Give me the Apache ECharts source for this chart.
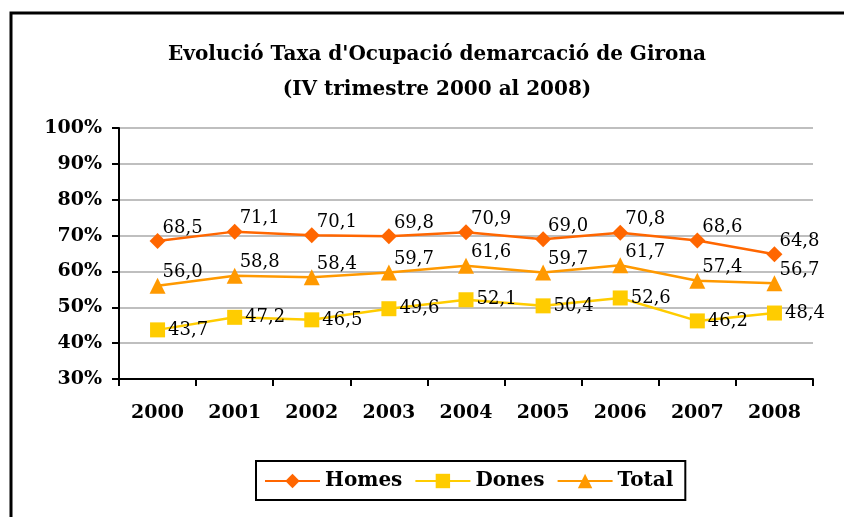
<!DOCTYPE html>
<html>
<head>
<meta charset="utf-8">
<script src="https://cdn.jsdelivr.net/npm/echarts@6/dist/echarts.min.js"></script>
<style>
  html, body { margin: 0; padding: 0; background: #fff; }
  #chart { width: 844px; height: 517px; }
</style>
</head>
<body>
<div id="chart"></div>
<script>
const years = ["2000", "2001", "2002", "2003", "2004", "2005", "2006", "2007", "2008"];
const homes = [68.5, 71.1, 70.1, 69.8, 70.9, 69.0, 70.8, 68.6, 64.8];
const dones = [43.7, 47.2, 46.5, 49.6, 52.1, 50.4, 52.6, 46.2, 48.4];
const total = [56.0, 58.8, 58.4, 59.7, 61.6, 59.7, 61.7, 57.4, 56.7];

const serif = "'DejaVu Serif', 'Liberation Serif', serif";
const fmt = p => p.value.toFixed(1).replace(".", ",");

// etiquetes de dades a dalt a la dreta
const labelUp = {
  show: true,
  position: "right",
  distance: 0,
  offset: [-3, -13],
  formatter: fmt,
  fontFamily: serif,
  fontSize: 18,
  color: "#000"
};

const myChart = echarts.init(document.getElementById("chart"));
const option = {
  animation: false,
  title: {
    text: "Evolució Taxa d'Ocupació demarcació de Girona\n(IV trimestre 2000 al 2008)",
    left: 432,
    top: 32,
    textAlign: "center",
    textStyle: {
      fontFamily: serif,
      fontWeight: "bold",
      fontSize: 20,
      lineHeight: 35,
      color: "#000"
    }
  },
  graphic: [
    {
      type: "rect",
      shape: { x: 11, y: 13, width: 860, height: 540 },
      style: { fill: "none", stroke: "#000", lineWidth: 3 }
    }
  ],
  legend: {
    bottom: 17,
    left: 256,
    padding: [10, 12, 9, 8],
    itemGap: 12,
    itemWidth: 55,
    itemHeight: 18,
    borderColor: "#000",
    borderWidth: 2,
    borderRadius: 0,
    textStyle: {
      fontFamily: serif,
      fontWeight: "bold",
      fontSize: 20,
      color: "#000"
    },
    data: ["Homes", "Dones", "Total"]
  },
  grid: {
    left: 119,
    right: 31,
    top: 128,
    bottom: 138
  },
  xAxis: {
    type: "category",
    data: years,
    boundaryGap: true,
    axisLine: { lineStyle: { color: "#000", width: 2 } },
    axisTick: { show: true, length: 7, lineStyle: { color: "#000", width: 2 } },
    axisLabel: {
      margin: 25,
      fontFamily: serif,
      fontWeight: "bold",
      fontSize: 19,
      color: "#000"
    }
  },
  yAxis: {
    type: "value",
    min: 30,
    max: 100,
    interval: 10,
    axisLine: { show: true, lineStyle: { color: "#000", width: 2 } },
    axisTick: { show: true, length: 7, lineStyle: { color: "#000", width: 2 } },
    splitLine: { lineStyle: { color: "#BFBFBF", width: 2 } },
    axisLabel: {
      margin: 17,
      formatter: "{value}%",
      fontFamily: serif,
      fontWeight: "bold",
      fontSize: 19,
      color: "#000"
    }
  },
  series: [
    {
      name: "Homes",
      type: "line",
      data: homes,
      symbol: "diamond",
      symbolSize: 16,
      color: "#FF6600",
      lineStyle: { width: 2.5 },
      label: labelUp
    },
    {
      name: "Dones",
      type: "line",
      data: dones,
      symbol: "rect",
      symbolSize: 15,
      color: "#FFCC00",
      lineStyle: { width: 2.5 },
      label: Object.assign({}, labelUp, { distance: 3, offset: [0, 0] })
    },
    {
      name: "Total",
      type: "line",
      data: total,
      symbol: "triangle",
      symbolSize: 16,
      color: "#FF9900",
      lineStyle: { width: 2.5 },
      label: labelUp
    }
  ]
};
myChart.setOption(option);
</script>
</body>
</html>
